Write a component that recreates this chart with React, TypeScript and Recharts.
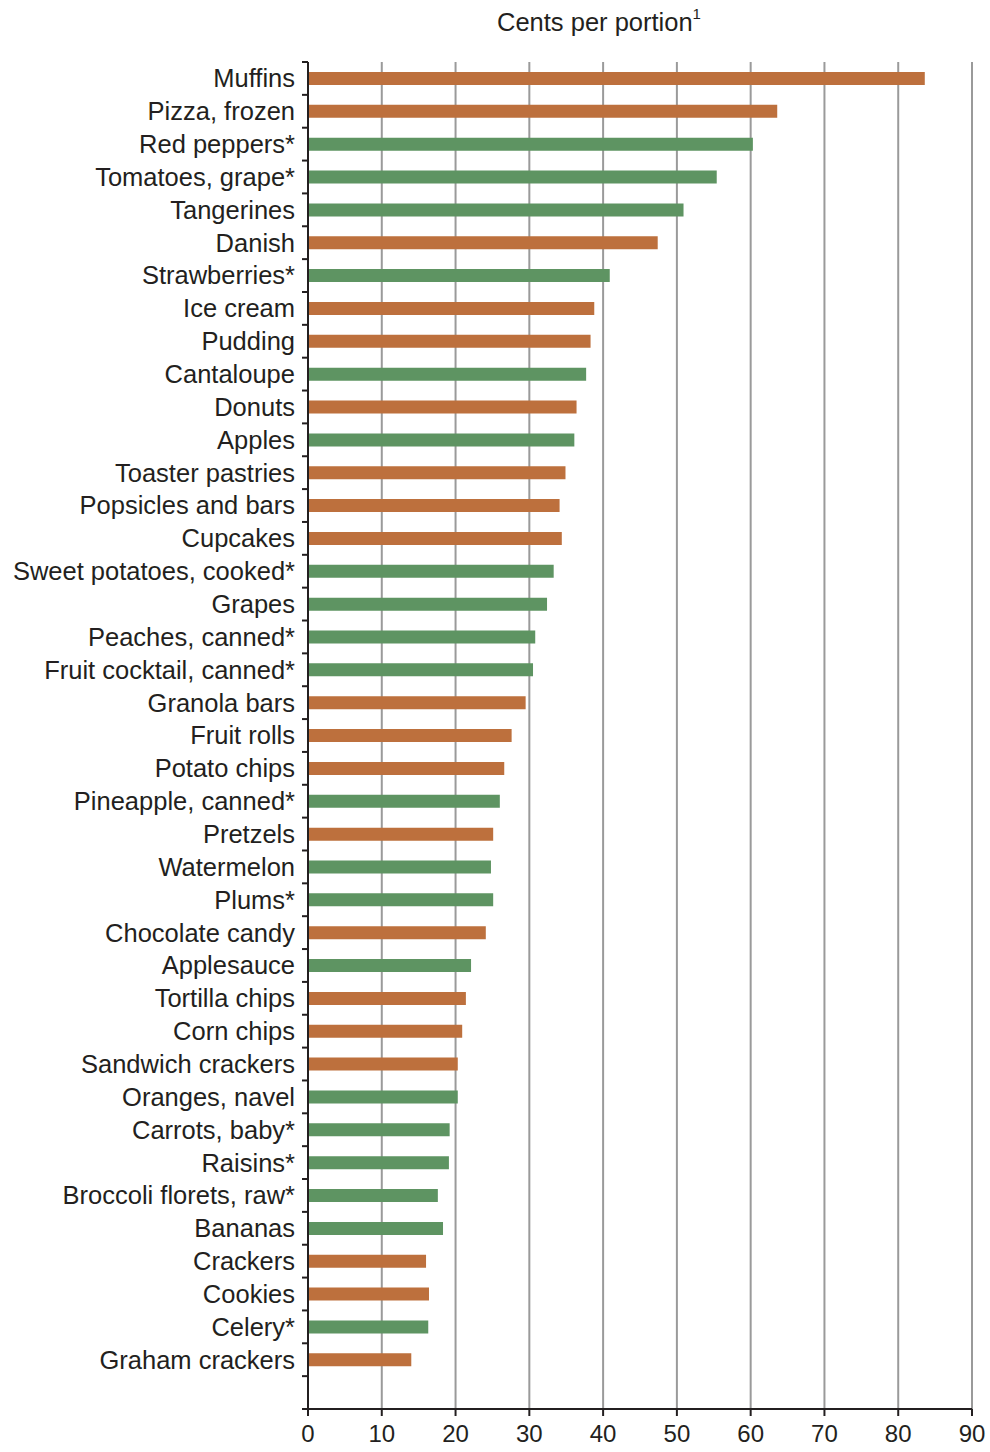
import { BarChart, Bar, XAxis, YAxis, CartesianGrid, Cell } from 'recharts'

const foods = [
	'Muffins', 'Pizza, frozen', 'Red peppers*', 'Tomatoes, grape*', 'Tangerines', 'Danish',
	'Strawberries*', 'Ice cream', 'Pudding', 'Cantaloupe', 'Donuts', 'Apples', 'Toaster pastries',
	'Popsicles and bars', 'Cupcakes', 'Sweet potatoes, cooked*', 'Grapes', 'Peaches, canned*',
	'Fruit cocktail, canned*', 'Granola bars', 'Fruit rolls', 'Potato chips', 'Pineapple, canned*',
	'Pretzels', 'Watermelon', 'Plums*', 'Chocolate candy', 'Applesauce', 'Tortilla chips',
	'Corn chips', 'Sandwich crackers', 'Oranges, navel', 'Carrots, baby*', 'Raisins*',
	'Broccoli florets, raw*', 'Bananas', 'Crackers', 'Cookies', 'Celery*', 'Graham crackers',
]

const cents = [
	83.6, 63.6, 60.3, 55.4, 50.9, 47.4, 40.9, 38.8, 38.3, 37.7, 36.4, 36.1, 34.9, 34.1, 34.4,
	33.3, 32.4, 30.8, 30.5, 29.5, 27.6, 26.6, 26.0, 25.1, 24.8, 25.1, 24.1, 22.1, 21.4, 20.9,
	20.3, 20.3, 19.2, 19.1, 17.6, 18.3, 16.0, 16.4, 16.3, 14.0,
]

// f = fruit / vegetable, s = snack
const kind = [
	's', 's', 'f', 'f', 'f', 's', 'f', 's', 's', 'f', 's', 'f', 's', 's', 's', 'f', 'f', 'f',
	'f', 's', 's', 's', 'f', 's', 'f', 'f', 's', 'f', 's', 's', 's', 'f', 'f', 'f', 'f', 'f',
	's', 's', 'f', 's',
]

const xTicks = [0, 10, 20, 30, 40, 50, 60, 70, 80, 90]

const colors: any = { s: '#bd703d', f: '#5e9462' }

const data: any[] = foods.map((name, i) => ({ name, value: cents[i], kind: kind[i] }))
// empty band at the bottom, like the original
data.push({ name: '', value: null, kind: 's' })

const font = '"Liberation Sans", Arial, Helvetica, sans-serif'
const ink = '#231f20'

const W = 990
const H = 1452
const TOP = 62
const XH = 43
const band = (H - TOP - XH) / data.length

// category label, plus tick marks on the band boundaries
const NameTick = (props: any) => {
	const { x, y, payload, index } = props
	const ax = x + 13
	return (
		<g>
			<line x1={ax - 6} x2={ax} y1={y - band / 2} y2={y - band / 2} stroke={ink} strokeWidth={2} />
			{index === data.length - 1 && (
				<line x1={ax - 6} x2={ax} y1={y + band / 2} y2={y + band / 2} stroke={ink} strokeWidth={2} />
			)}
			<text x={x} y={y} dy="0.35em" textAnchor="end" fontSize={25.5} fill={ink} fontFamily={font}>
				{payload.value}
			</text>
		</g>
	)
}

const App = () => {
	return (
		<div style={{ position: 'absolute', left: 0, top: 0, width: W, height: H, fontFamily: font }}>
			<div style={{ position: 'absolute', left: 497, top: 1, fontSize: 25.5, color: ink, whiteSpace: 'nowrap', lineHeight: '30px' }}>
				Cents per portion<sup style={{ fontSize: 15, position: 'relative', top: -2 }}>1</sup>
			</div>
			<BarChart
				width={W}
				height={H}
				layout="vertical"
				data={data}
				barCategoryGap={0}
				margin={{ top: TOP, right: 18, bottom: 0, left: 0 }}
			>
				<CartesianGrid horizontal={false} stroke="#9a9a9a" strokeWidth={2} />
				<XAxis
					type="number"
					domain={[0, 90]}
					ticks={xTicks}
					interval={0}
					height={XH}
					tickSize={7}
					tickMargin={9}
					axisLine={{ stroke: ink, strokeWidth: 2 }}
					tickLine={{ stroke: ink, strokeWidth: 2 }}
					tick={{ fontSize: 24, fill: ink, fontFamily: font }}
				/>
				<YAxis
					type="category"
					dataKey="name"
					width={308}
					interval={0}
					tickSize={6}
					tickMargin={7}
					tickLine={false}
					axisLine={{ stroke: ink, strokeWidth: 2 }}
					tick={<NameTick />}
				/>
				<Bar dataKey="value" barSize={13} isAnimationActive={false}>
					{data.map((d, i) => (
						<Cell key={i} fill={colors[d.kind]} />
					))}
				</Bar>
			</BarChart>
		</div>
	)
}

export default App
